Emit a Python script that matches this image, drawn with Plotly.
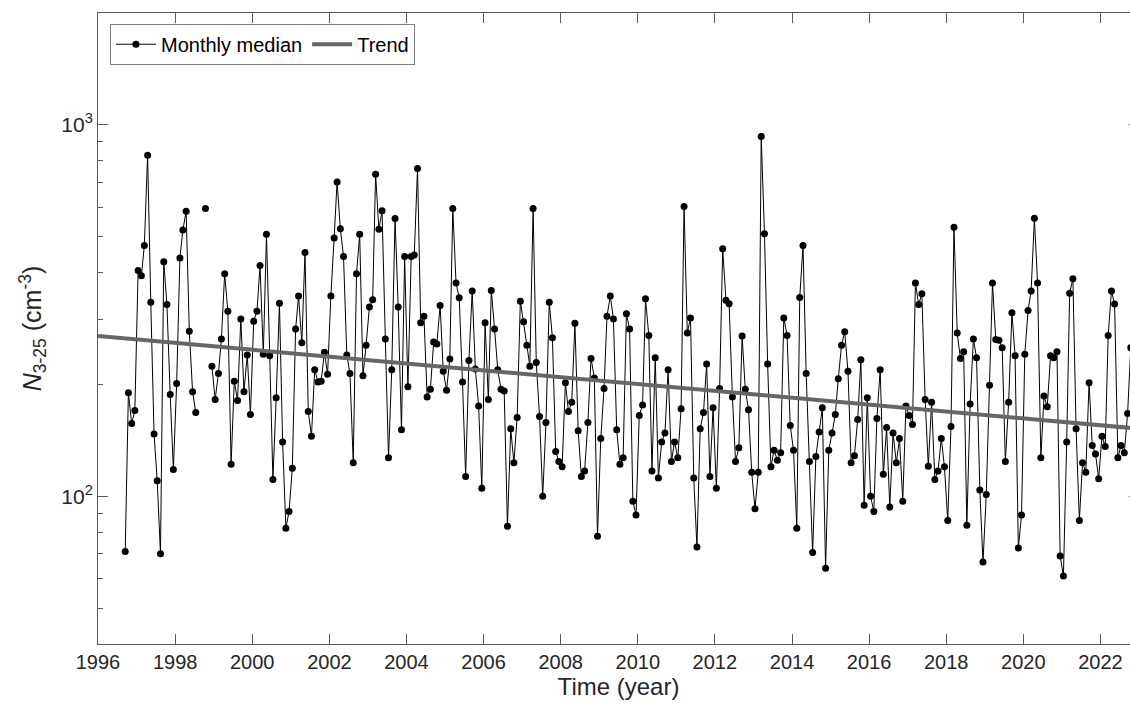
import pandas as pd
import plotly.graph_objects as go

# Monthly median N3-25 (cm^-3), Sep 1996 .. Oct 2022 (None = missing month)
v1996 = [71, 190, 157, 170]  # Sep-Dec
v1997 = [405, 392, 473, 828, 333, 147, 110, 70, 428, 328, 188, 118]
v1998 = [201, 438, 521, 585, 278, 191, 168, None, None, 595, None, 224]
v1999 = [182, 214, 265, 397, 315, 122, 204, 181, 300, 191, 240, 166]
v2000 = [296, 315, 418, 241, 507, 239, 111, 184, 331, 140, 82, 91]
v2001 = [119, 282, 346, 259, 453, 169, 145, 219, 203, 204, 244, 213]
v2002 = [346, 496, 701, 525, 442, 240, 214, 123, 397, 507, 211, 255]
v2003 = [323, 338, 736, 523, 587, 265, 127, 219, 559, 323, 151, 442]
v2004 = [197, 442, 446, 763, 293, 305, 185, 194, 260, 257, 326, 217]
v2005 = [193, 234, 595, 375, 342, 203, 113, 232, 357, 220, 175, 105]
v2006 = [293, 182, 358, 282, 219, 194, 192, 83, 152, 123, 163, 335]
v2007 = [295, 255, 224, 595, 229, 164, 100, 158, 333, 267, 132, 124]
v2008 = [120, 202, 169, 179, 292, 150, 113, 117, 158, 235, 208, 78]
v2009 = [143, 195, 305, 346, 300, 151, 122, 127, 310, 282, 97, 89]
v2010 = [165, 176, 340, 271, 117, 236, 112, 140, 148, 219, 124, 140]
v2011 = [127, 172, 603, 275, 302, 112, 73, 152, 168, 227, 113, 173]
v2012 = [105, 195, 464, 337, 330, 185, 124, 135, 270, 194, 171, 116]
v2013 = [92.5, 116, 930, 509, 227, 120, 133, 125, 131, 302, 271, 155]
v2014 = [133, 82, 343, 473, 214, 124, 70.5, 128, 149, 173, 64, 133]
v2015 = [148, 166, 207, 255, 277, 217, 123, 128.5, 161, 233, 94.5, 184]
v2016 = [100, 91, 162, 219, 114.5, 153, 93.5, 148, 123, 143, 97, 175]
v2017 = [165, 156, 375, 328, 351, 182, 120.5, 179, 111, 117, 143, 120]
v2018 = [86, 154, 530, 275, 235, 245, 83.5, 177, 265, 236, 104, 66.5]
v2019 = [101, 199, 375, 264, 263, 251, 124, 179, 312, 239, 72.5, 89]
v2020 = [241, 316, 357, 560, 375, 127, 186, 174, 239, 236, 245, 69]
v2021 = [61, 140, 352, 385, 152, 86, 123, 116, 202, 137, 130, 111.5]
v2022 = [145, 136, 271, 357, 329, 127, 137, 131, 167, 251]  # Jan-Oct

monthly = (v1996 + v1997 + v1998 + v1999 + v2000 + v2001 + v2002 + v2003 + v2004
           + v2005 + v2006 + v2007 + v2008 + v2009 + v2010 + v2011 + v2012 + v2013
           + v2014 + v2015 + v2016 + v2017 + v2018 + v2019 + v2020 + v2021 + v2022)
months = pd.date_range("1996-09-01", periods=len(monthly), freq="MS") + pd.Timedelta(days=14)

trend_dates = ["1996-01-01", "2023-01-01"]
trend_vals = [270, 152]

x_ticks = [f"{y}-01-01" for y in range(1996, 2023, 2)]
x_ticktext = [str(y) for y in range(1996, 2023, 2)]
y_minor = [40, 50, 60, 70, 80, 90, 200, 300, 400, 500, 600, 700, 800, 900, 2000]

FONT = "Liberation Sans, Arial, Helvetica, sans-serif"
AX = "#5a5a5a"

fig = go.Figure()
fig.add_trace(go.Scatter(
    x=months, y=monthly, mode="lines+markers", name="Monthly median",
    line=dict(color="black", width=1), marker=dict(color="black", size=7),
    connectgaps=False,
))
fig.add_trace(go.Scatter(
    x=trend_dates, y=trend_vals, mode="lines", name="Trend",
    line=dict(color="#666666", width=4),
))

fig.update_layout(
    width=1141, height=705,
    margin=dict(l=98, r=2, t=13, b=61),
    paper_bgcolor="white", plot_bgcolor="white",
    font=dict(family=FONT, size=20, color="#262626"),
    showlegend=True,
    legend=dict(
        orientation="h", x=0.0115, y=0.983, xanchor="left", yanchor="top",
        bgcolor="white", bordercolor="#7f7f7f", borderwidth=1,
        font=dict(size=20, color="black"), itemwidth=40, tracegroupgap=0,
    ),
    xaxis=dict(
        type="date", range=["1996-01-01", "2023-01-01"],
        tickmode="array", tickvals=x_ticks, ticktext=x_ticktext,
        ticks="inside", ticklen=10, tickwidth=1, tickcolor=AX,
        showline=True, linecolor=AX, linewidth=1, mirror="ticks",
        showgrid=False, zeroline=False,
        tickfont=dict(size=20, color="#262626"),
        title=dict(text="Time (year)", font=dict(size=24, color="#262626"), standoff=4),
    ),
    yaxis=dict(
        type="log", range=[1.6021, 3.3010],
        tickmode="array", tickvals=[100, 1000],
        ticktext=["10<sup>2</sup>", "10<sup>3</sup>"],
        ticks="inside", ticklen=10, tickwidth=1, tickcolor=AX,
        minor=dict(tickmode="array", tickvals=y_minor, ticks="inside", ticklen=5,
                   tickcolor=AX, tickwidth=1, showgrid=False),
        showline=True, linecolor=AX, linewidth=1, mirror="ticks",
        showgrid=False, zeroline=False,
        tickfont=dict(size=21, color="#262626"),
        title=dict(text="<i>N</i><sub>3-25</sub> (cm<sup>-3</sup>)",
                   font=dict(size=25, color="#262626"), standoff=12),
    ),
)

fig.write_html(
    "out.html",
    config={"displayModeBar": False},
    post_script="document.body.style.margin='0';document.body.style.overflow='hidden';",
)
